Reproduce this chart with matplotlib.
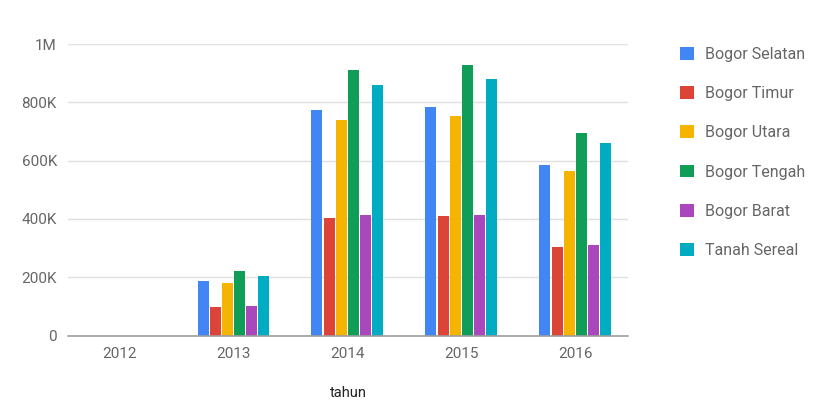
import numpy as np
import matplotlib
matplotlib.use('Agg')
from matplotlib import pyplot as plt
from matplotlib.ticker import FuncFormatter

plt.rcParams['font.family'] = ['Roboto', 'DejaVu Sans']

years = ['2012', '2013', '2014', '2015', '2016']
series = ['Bogor Selatan', 'Bogor Timur', 'Bogor Utara', 'Bogor Tengah', 'Bogor Barat', 'Tanah Sereal']
selatan = [0, 188000, 773000, 783000, 586000]
timur = [0, 97000, 403000, 410000, 305000]
utara = [0, 179000, 739000, 753000, 563000]
tengah = [0, 220000, 911000, 927000, 694000]
barat = [0, 100000, 412000, 414000, 309000]
sereal = [0, 205000, 858000, 879000, 659000]
colors = ['#4285F4', '#DB4437', '#F4B400', '#0F9D58', '#AB47BC', '#00ACC1']

values = [selatan, timur, utara, tengah, barat, sereal]

fig = plt.figure(figsize=(8.2, 4.03), dpi=100)
ax = fig.add_axes([68/820, 1 - 335.5/403, 560/820, 291.5/403])

x = np.arange(len(years))
pitch = 0.107
width = 0.0965
for i, (name, vals, c) in enumerate(zip(series, values, colors)):
    ax.bar(x + (i - 2.5) * pitch, vals, width=width, color=c, label=name, linewidth=0)

ax.set_xlim(-0.452, 4.461)
ax.set_ylim(0, 1000000)
ax.set_yticks([0, 200000, 400000, 600000, 800000, 1000000])
ax.yaxis.set_major_formatter(FuncFormatter(
    lambda v, p: '0' if v == 0 else ('1M' if v == 1000000 else '%dK' % (v / 1000))))
ax.set_xticks(x)
ax.set_xticklabels(years)
ax.grid(axis='y', color='#e0e0e0', linewidth=1)
ax.set_axisbelow(True)
for s in ['top', 'right', 'left']:
    ax.spines[s].set_visible(False)
ax.spines['bottom'].set_color('#9e9e9e')
ax.spines['bottom'].set_linewidth(1.2)
ax.tick_params(length=0, labelsize=11, labelcolor='#666666')
ax.tick_params(axis='y', pad=8)
ax.tick_params(axis='x', pad=8)
fig.text(348/820, 1 - 393/403, 'tahun', ha='center', va='center', fontsize=10.5, color='#222222')

leg = ax.legend(loc='upper left', bbox_to_anchor=((666 - 68)/560, 1.04), frameon=False,
                fontsize=11.5, labelcolor='#666666', handlelength=0.85, handleheight=0.85,
                labelspacing=1.52, handletextpad=0.72)

plt.savefig('out.png', dpi=100)
